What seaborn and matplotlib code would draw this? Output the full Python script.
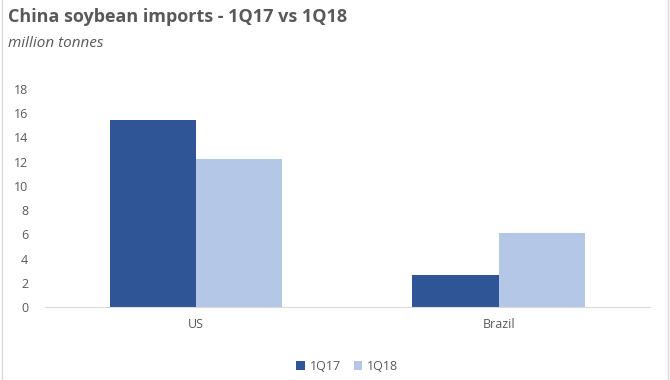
import pandas as pd
import seaborn as sns
import matplotlib
matplotlib.use("Agg")
import matplotlib.pyplot as plt

countries = ["US", "Brazil"]
periods = ["1Q17", "1Q18"]
imports_1q17 = [15.45, 2.65]
imports_1q18 = [12.2, 6.15]
yticks = [0, 2, 4, 6, 8, 10, 12, 14, 16, 18]

df = pd.DataFrame({
    "country": countries * 2,
    "period": [periods[0]] * 2 + [periods[1]] * 2,
    "value": imports_1q17 + imports_1q18,
})

sns.set_style("white")
plt.rcParams["font.family"] = ["Open Sans", "DejaVu Sans"]
grey = "#595959"

fig = plt.figure(figsize=(6.7, 3.8), dpi=100)
ax = fig.add_axes([0.067, 0.192, 0.903, 0.574])
sns.barplot(data=df, x="country", y="value", hue="period", ax=ax,
            palette=["#2F5597", "#B4C7E7"], width=0.57, saturation=1,
            edgecolor="none")

ax.set_ylim(0, 18)
ax.set_yticks(yticks)
ax.set_yticklabels([str(t) for t in yticks], color=grey, fontsize=9)
ax.tick_params(axis="x", colors=grey, labelsize=9, length=0, pad=8)
ax.tick_params(axis="y", length=0, pad=12)
ax.set_xlabel("")
ax.set_ylabel("")
for s in ["top", "right", "left"]:
    ax.spines[s].set_visible(False)
ax.spines["bottom"].set_color("#D9D9D9")

leg = ax.legend(loc="upper center", bbox_to_anchor=(0.5, -0.19), ncol=2,
                frameon=False, fontsize=9, handlelength=0.7, handleheight=0.7,
                columnspacing=1.0, handletextpad=0.4)
for t in leg.get_texts():
    t.set_color(grey)

fig.text(0.012, 0.955, "China soybean imports - 1Q17 vs 1Q18", fontsize=13,
         fontweight="bold", color=grey, va="center")
fig.text(0.012, 0.885, "million tonnes", fontsize=11, style="italic",
         color=grey, va="center")
fig.add_artist(plt.Line2D([0.003, 0.003], [0, 1], color="#D9D9D9", lw=1))
fig.add_artist(plt.Line2D([0.997, 0.997], [0, 1], color="#D9D9D9", lw=1))

fig.savefig("out.png", dpi=100)
